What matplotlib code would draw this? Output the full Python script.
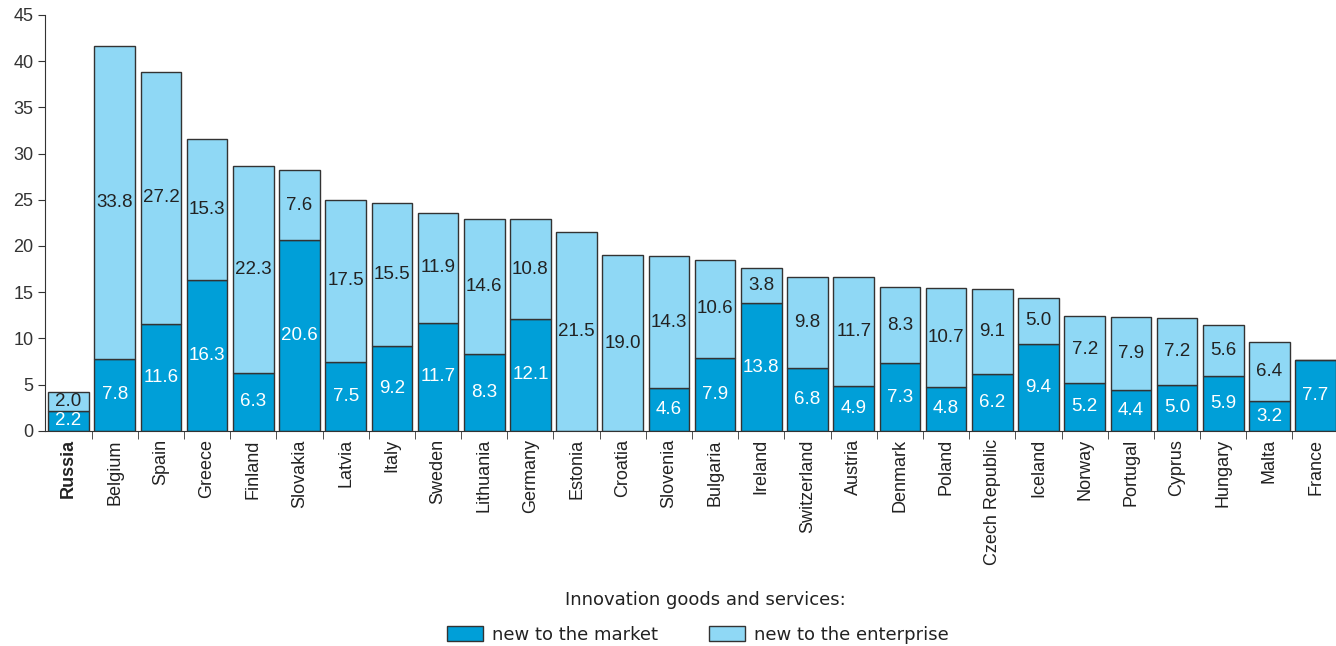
import numpy as np
import matplotlib
matplotlib.use("Agg")
from matplotlib import pyplot as plt
from matplotlib.patches import Patch

countries = ['Russia', 'Belgium', 'Spain', 'Greece', 'Finland', 'Slovakia', 'Latvia', 'Italy',
             'Sweden', 'Lithuania', 'Germany', 'Estonia', 'Croatia', 'Slovenia', 'Bulgaria',
             'Ireland', 'Switzerland', 'Austria', 'Denmark', 'Poland', 'Czech Republic',
             'Iceland', 'Norway', 'Portugal', 'Cyprus', 'Hungary', 'Malta', 'France']
market = [2.2, 7.8, 11.6, 16.3, 6.3, 20.6, 7.5, 9.2, 11.7, 8.3, 12.1, 0, 0, 4.6, 7.9,
          13.8, 6.8, 4.9, 7.3, 4.8, 6.2, 9.4, 5.2, 4.4, 5.0, 5.9, 3.2, 7.7]
enterprise = [2.0, 33.8, 27.2, 15.3, 22.3, 7.6, 17.5, 15.5, 11.9, 14.6, 10.8, 21.5, 19.0,
              14.3, 10.6, 3.8, 9.8, 11.7, 8.3, 10.7, 9.1, 5.0, 7.2, 7.9, 7.2, 5.6, 6.4, 0]
yticks = list(range(0, 50, 5))

dark = '#009fd8'
light = '#8fd8f5'
edge = '#333333'

plt.rcParams['font.family'] = ['Liberation Sans Narrow', 'Liberation Sans', 'DejaVu Sans']

fig = plt.figure(figsize=(13.36, 6.46), dpi=100)
ax = fig.add_axes([0.034, 0.333, 0.968, 0.644])

ind = np.arange(len(countries))
m = np.array(market)
e = np.array(enterprise)
w = 0.88
b1 = ax.bar(ind, m, w, color=dark, edgecolor=edge, linewidth=1)
b2 = ax.bar(ind, e, w, bottom=m, color=light, edgecolor=edge, linewidth=1)

for i in ind:
    if m[i] > 0:
        ax.text(i, m[i] / 2, "%.1f" % m[i], ha='center', va='center', color='white', fontsize=13.5)
    if e[i] > 0:
        ax.text(i, m[i] + e[i] / 2, "%.1f" % e[i], ha='center', va='center', color='#222222', fontsize=13.5)

ax.set_xlim(-0.5, 27.5)
ax.set_ylim(0, 45)
ax.set_yticks(yticks)
ax.tick_params(axis='y', labelsize=13, length=5, colors='#333333')
ax.set_xticks(ind)
ax.set_xticklabels(countries, rotation=90, fontsize=13, color='#222222')
ax.tick_params(axis='x', length=0, pad=6)
ax.set_xticks(np.arange(0.5, 27.5, 1), minor=True)
ax.tick_params(axis='x', which='minor', length=6, color='#333333')
ax.get_xticklabels()[0].set_fontweight('bold')
for s in ['top', 'right']:
    ax.spines[s].set_visible(False)
ax.spines['left'].set_color('#333333')
ax.spines['bottom'].set_color('#333333')

# legend title sits a bit right of the entries in the original
fig.text(0.528, 0.071, 'Innovation goods and services:', ha='center', va='center',
         family='DejaVu Sans', fontsize=13, color='#222222')
handles = [Patch(facecolor=dark, edgecolor=edge, label='new to the market'),
           Patch(facecolor=light, edgecolor=edge, label='new to the enterprise')]
leg = fig.legend(handles=handles, loc='center', bbox_to_anchor=(0.5225, 0.017), ncol=2,
                 frameon=False, prop={'family': 'DejaVu Sans', 'size': 13},
                 handlelength=2.0, handleheight=0.9, handletextpad=0.5, columnspacing=2.8,
                 borderpad=0)
for t in leg.get_texts():
    t.set_color('#222222')

fig.savefig('out.png', dpi=100)
